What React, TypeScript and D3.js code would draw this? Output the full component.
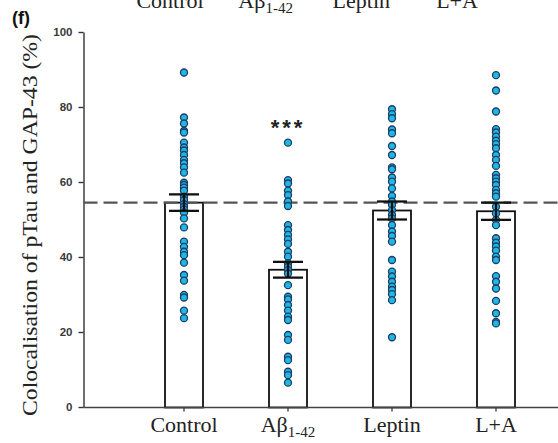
import React, { useEffect, useRef } from "react";
import * as d3 from "d3";

// Groups along the x axis
const categories = ["Control", "Abeta", "Leptin", "LA"];
const labelMain = ["Control", "Aβ", "Leptin", "L+A"];
const labelSub = ["", "1-42", "", ""];

// Bar heights (mean %) and SEM
const means = [54.5, 36.6, 52.4, 52.2];
const sems = [2.2, 2.1, 2.4, 2.3];

// Reference line (control mean)
const refLevel = 54.5;

// Individual measurements per group (%)
const controlPts = [89.2, 77.2, 75.6, 73.6, 73.2, 70.5, 69.2, 68.4, 67.2, 65.9, 65.0, 63.9, 62.5, 59.8, 59.2, 58.5, 57.7, 56.1, 55.2, 54.1, 53.4, 52.7, 51.8, 50.3, 47.9, 44.1, 42.7, 41.4, 40.5, 38.5, 35.2, 33.7, 29.9, 29.2, 25.7, 23.7];
const abetaPts = [70.5, 60.5, 59.6, 57.7, 56.5, 54.8, 53.6, 48.5, 47.2, 45.9, 44.7, 43.5, 41.4, 40.1, 38.3, 37.4, 36.5, 35.6, 32.5, 29.4, 28.7, 27.2, 25.7, 24.1, 23.2, 19.2, 17.9, 13.4, 12.5, 9.4, 8.5, 6.5];
const leptinPts = [79.4, 78.1, 77.0, 74.0, 73.0, 69.6, 67.2, 63.9, 63.4, 61.2, 60.1, 58.3, 56.3, 54.8, 53.9, 52.5, 51.2, 50.3, 48.5, 46.8, 45.6, 44.1, 39.2, 36.1, 34.8, 33.4, 32.1, 31.2, 30.1, 28.5, 18.6];
const laPts = [88.5, 84.4, 78.8, 74.1, 73.2, 72.1, 71.0, 70.1, 69.0, 67.2, 65.9, 64.3, 61.9, 61.0, 60.1, 59.2, 57.9, 57.0, 56.1, 53.4, 51.6, 49.9, 48.5, 45.0, 43.8, 42.8, 41.7, 40.1, 39.2, 34.9, 33.4, 31.6, 28.3, 25.0, 22.7, 22.3];
const points = [controlPts, abetaPts, leptinPts, laPts];

// Significance marker (index of group, text)
const sigGroup = 1;
const sigText = "***";
const sigLevel = 75;

const yTicks = [0, 20, 40, 60, 80, 100];

const W = 558;
const H = 443;

export default function App() {
  const ref = useRef<SVGSVGElement | null>(null);

  useEffect(() => {
    const svg = d3.select(ref.current);
    svg.selectAll("*").remove();

    const y = d3.scaleLinear().domain([0, 100]).range([407, 32]);
    const x = d3.scalePoint<string>().domain(categories).range([184, 496]);
    const xTop = d3.scalePoint<string>().domain(categories).range([170, 457]);
    const axisX = 83.5;
    const baseY = y(0) + 0.5;
    const barW = 38;
    const serif = "'Liberation Serif', 'Times New Roman', serif";
    const sans = "'Liberation Sans', Arial, sans-serif";

    // Panel letter
    svg.append("text")
      .attr("x", 12).attr("y", 24)
      .attr("font-family", sans).attr("font-weight", "bold").attr("font-size", 18)
      .attr("fill", "#111").text("(f)");

    // Group labels of the row above (partly cut at the top edge)
    const topLbl = svg.append("g");
    categories.forEach((c, i) => {
      const t = topLbl.append("text")
        .attr("x", xTop(c)).attr("y", 8)
        .attr("text-anchor", "middle")
        .attr("font-family", serif).attr("font-size", 22).attr("fill", "#222");
      t.append("tspan").text(labelMain[i]);
      if (labelSub[i]) t.append("tspan").attr("font-size", 15).attr("dy", 5).text(labelSub[i]);
    });

    // Y axis
    const yAxis = d3.axisLeft(y).tickValues(yTicks).tickSize(5).tickSizeOuter(0).tickPadding(6);
    const gy = svg.append("g").attr("transform", `translate(${axisX},0)`).call(yAxis);
    gy.select(".domain").attr("stroke", "#333").attr("stroke-width", 1.4);
    gy.selectAll(".tick line").attr("stroke", "#333").attr("stroke-width", 1.4);
    gy.selectAll(".tick text")
      .attr("font-family", sans).attr("font-weight", "bold").attr("font-size", 11.5).attr("fill", "#3a3a3a");

    // Y title
    svg.append("text")
      .attr("transform", `translate(37,225) rotate(-90)`)
      .attr("text-anchor", "middle")
      .attr("font-family", serif).attr("font-size", 21).attr("fill", "#222")
      .attr("textLength", 382).attr("lengthAdjust", "spacingAndGlyphs")
      .text("Colocalisation of pTau and GAP-43 (%)");

    // Bars
    svg.append("g").selectAll("rect").data(categories).join("rect")
      .attr("x", (c) => (x(c) as number) - barW / 2)
      .attr("y", (_c, i) => y(means[i]))
      .attr("width", barW)
      .attr("height", (_c, i) => baseY - y(means[i]))
      .attr("fill", "#fff").attr("stroke", "#111").attr("stroke-width", 1.8);

    // X axis line and ticks
    svg.append("line")
      .attr("x1", axisX).attr("x2", W).attr("y1", baseY).attr("y2", baseY)
      .attr("stroke", "#444").attr("stroke-width", 1.6);
    svg.append("g").selectAll("line").data(categories).join("line")
      .attr("x1", (c) => x(c) as number).attr("x2", (c) => x(c) as number)
      .attr("y1", baseY).attr("y2", baseY + 4)
      .attr("stroke", "#444").attr("stroke-width", 1.4);

    // Dashed reference line
    svg.append("line")
      .attr("x1", axisX).attr("x2", W).attr("y1", y(refLevel)).attr("y2", y(refLevel))
      .attr("stroke", "#555").attr("stroke-width", 2.4).attr("stroke-dasharray", "14 6");

    // Individual points
    categories.forEach((c, i) => {
      svg.append("g").selectAll("circle").data(points[i]).join("circle")
        .attr("cx", x(c) as number).attr("cy", (v) => y(v)).attr("r", 3.5)
        .attr("fill", "#20b6e6").attr("stroke", "#1b3d63").attr("stroke-width", 1.3);
    });

    // SEM error bars
    const eb = svg.append("g").attr("stroke", "#111").attr("stroke-width", 2.3);
    categories.forEach((c, i) => {
      const cx = x(c) as number;
      const hi = y(means[i] + sems[i]);
      const lo = y(means[i] - sems[i]);
      eb.append("line").attr("x1", cx).attr("x2", cx).attr("y1", hi).attr("y2", lo);
      eb.append("line").attr("x1", cx - 15).attr("x2", cx + 15).attr("y1", hi).attr("y2", hi);
      eb.append("line").attr("x1", cx - 15).attr("x2", cx + 15).attr("y1", lo).attr("y2", lo);
    });

    // Significance stars
    svg.append("text")
      .attr("x", x(categories[sigGroup]) as number).attr("y", y(sigLevel) + 9)
      .attr("text-anchor", "middle")
      .attr("font-family", sans).attr("font-weight", "bold").attr("font-size", 22)
      .attr("letter-spacing", 3).attr("fill", "#222").text(sigText);

    // Bottom group labels
    const botLbl = svg.append("g");
    categories.forEach((c, i) => {
      const t = botLbl.append("text")
        .attr("x", x(c) as number).attr("y", 432)
        .attr("text-anchor", "middle")
        .attr("font-family", serif).attr("font-size", 22).attr("fill", "#222");
      t.append("tspan").text(labelMain[i]);
      if (labelSub[i]) t.append("tspan").attr("font-size", 15).attr("dy", 5).text(labelSub[i]);
    });
  }, []);

  return (
    <svg
      ref={ref}
      width={W}
      height={H}
      style={{ position: "absolute", left: 0, top: 0, background: "#fff" }}
    />
  );
}
